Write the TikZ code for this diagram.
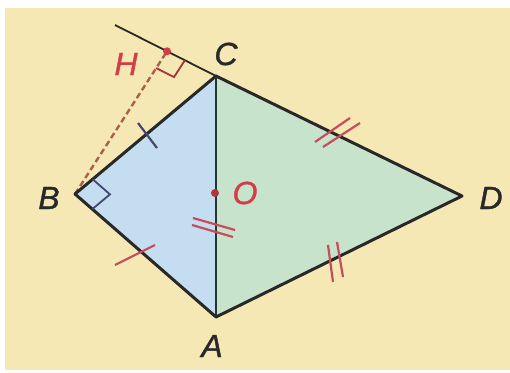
\documentclass[tikz,border=0pt]{standalone}
\usepackage{fontspec}
\setmainfont{Liberation Sans}
\usetikzlibrary{calc}
\definecolor{cream}{RGB}{245,232,180}
\definecolor{bluefill}{RGB}{196,221,240}
\definecolor{greenfill}{RGB}{200,227,204}
\definecolor{inkline}{RGB}{40,40,40}
\definecolor{redmark}{RGB}{210,62,72}
\definecolor{tickred}{RGB}{196,78,92}
\definecolor{navy}{RGB}{70,70,110}
\definecolor{dashbrown}{RGB}{170,96,78}
\tikzset{
  edge/.style={draw=inkline, line width=3pt, line join=round},
  thinline/.style={draw=inkline, line width=1.8pt},
  diag/.style={draw=inkline!85!teal, line width=1.8pt},
  dashline/.style={draw=dashbrown, line width=2.4pt, dash pattern=on 6pt off 3.5pt},
  tickmark/.style={draw=tickred, line width=2.2pt},
  bluetick/.style={draw=navy, line width=2.2pt},
  lbl/.style={font=\fontsize{32}{36}\selectfont\itshape\addfontfeature{FakeBold=1.2}, text=inkline, inner sep=0pt},
  redlbl/.style={font=\fontsize{32}{36}\selectfont\itshape\addfontfeature{FakeBold=1.2}, text=redmark, inner sep=0pt}
}
\begin{document}
\begin{tikzpicture}[x=1pt,y=-1pt]
\useasboundingbox (0,0) rectangle (510,372);
\fill[white] (0,0) rectangle (510,372);
\fill[cream] (5,8) rectangle (510,370);
% points
\coordinate (C) at (216,76);
\coordinate (B) at (75,194);
\coordinate (A) at (216,317);
\coordinate (D) at (462,196);
\coordinate (O) at (215,193);
\coordinate (E) at (115,25);
\coordinate (H) at ($(E)!0.515!(C)$);
% fills
\fill[bluefill] (A)--(B)--(C)--cycle;
\fill[greenfill] (A)--(C)--(D)--cycle;
% lines
\draw[thinline] (E)--(C);
\draw[diag] (C)--(A);
\draw[dashline] (B)--(H);
\draw[edge] (A)--(B)--(C)--(D)--cycle;
% right angle at H
\coordinate (H1) at ($(H)!20pt!(C)$);
\coordinate (H2) at ($(H)!20pt!(B)$);
\draw[draw=redmark!80!black, line width=1.8pt] (H1)--($(H1)+(H2)-(H)$)--(H2);
% right angle at B
\coordinate (B1) at ($(B)!23pt!(C)$);
\coordinate (B2) at ($(B)!23pt!(A)$);
\draw[draw=navy, line width=1.8pt] (B1)--($(B1)+(B2)-(B)$)--(B2);
% ticks
\draw[bluetick] (138,123)--(157,148);
\draw[tickmark] (115,265)--(155,245);
\draw[tickmark] (315,142)--(350,118);
\draw[tickmark] (323,147)--(360,123);
\draw[tickmark] (328,245)--(333,282);
\draw[tickmark] (337,242)--(343,277);
\draw[tickmark] (193,218)--(235,230);
\draw[tickmark] (192,225)--(233,237);
% dots
\fill[redmark] (H) circle (4pt);
\fill[redmark!85!black] (O) circle (4pt);
% labels
\node[lbl] (lC) at (226,54) {C};
\node[lbl] (lB) at (49,198) {B};
\node[lbl] (lD) at (491,198) {D};
\node[lbl] (lA) at (212,346) {A};
\node[redlbl] (lO) at (245,193) {O};
\node[redlbl] (lH) at (126,64) {H};
\end{tikzpicture}
\end{document}
